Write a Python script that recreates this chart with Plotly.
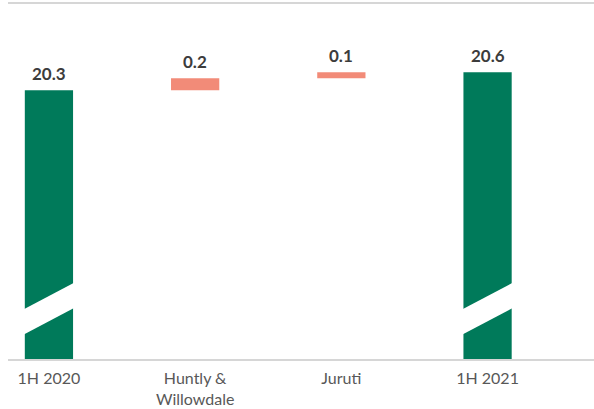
import plotly.graph_objects as go

categories = ["1H 2020", "Huntly &<br>Willowdale", "Juruti", "1H 2021"]
start_value = 20.3
changes = [0.2, 0.1]
end_value = 20.6
label_texts = ["20.3", "0.2", "0.1", "20.6"]

GREEN = "#007a5a"
SALMON = "#f28b78"

# waterfall bases / heights
bases = [0, start_value, start_value + changes[0], 0]
heights = [start_value, changes[0], changes[1], end_value]
colors = [GREEN, SALMON, SALMON, GREEN]
tops = [b + h for b, h in zip(bases, heights)]

Y_MIN, Y_MAX = 15.833, 21.733
BREAK_AT = 16.67      # centre of axis-break band (data units)
BREAK_GAP = 0.42      # vertical thickness of band
BREAK_SLOPE = 0.45    # rise across a bar width
BAR_W = 0.33

fig = go.Figure()
fig.add_trace(go.Bar(
    x=list(range(len(categories))), y=heights, base=bases,
    marker=dict(color=colors, line=dict(width=0)),
    width=BAR_W, hoverinfo="skip",
))

# axis-break bands on the full bars
shapes = []
for i, h in enumerate(heights):
    if bases[i] == 0:
        x0, x1 = i - BAR_W / 2 - 0.01, i + BAR_W / 2 + 0.01
        lo_l = BREAK_AT - BREAK_SLOPE / 2 - BREAK_GAP / 2
        lo_r = BREAK_AT + BREAK_SLOPE / 2 - BREAK_GAP / 2
        hi_l = lo_l + BREAK_GAP
        hi_r = lo_r + BREAK_GAP
        path = f"M {x0},{lo_l} L {x1},{lo_r} L {x1},{hi_r} L {x0},{hi_l} Z"
        shapes.append(dict(type="path", xref="x", yref="y", path=path,
                           fillcolor="white", line=dict(width=0)))

annotations = []
for i, t in enumerate(label_texts):
    annotations.append(dict(
        x=i, y=tops[i], xref="x", yref="y", text=f"<b>{t}</b>",
        showarrow=False, yanchor="bottom", yshift=4,
        font=dict(family="Lato", size=17, color="#3c3c3c"),
    ))

fig.update_layout(
    width=594, height=409,
    margin=dict(l=8, r=0, t=4, b=50, autoexpand=False),
    paper_bgcolor="white", plot_bgcolor="white",
    showlegend=False,
    shapes=shapes, annotations=annotations,
    xaxis=dict(
        range=[-0.28, 3.728], tickmode="array",
        tickvals=list(range(len(categories))), ticktext=categories,
        showline=True, mirror=True, linecolor="#d6d6d6", linewidth=1.5,
        showgrid=False, zeroline=False, ticks="", automargin=False,
        tickfont=dict(family="Lato", size=16, color="#585858"),
        ticklabelstandoff=4,
    ),
    yaxis=dict(range=[Y_MIN, Y_MAX], visible=False, showgrid=False,
               zeroline=False, automargin=False),
)

fig.write_html(
    "out.html",
    config={"displayModeBar": False},
    post_script="document.body.style.margin='0';document.body.style.overflow='hidden';",
)
